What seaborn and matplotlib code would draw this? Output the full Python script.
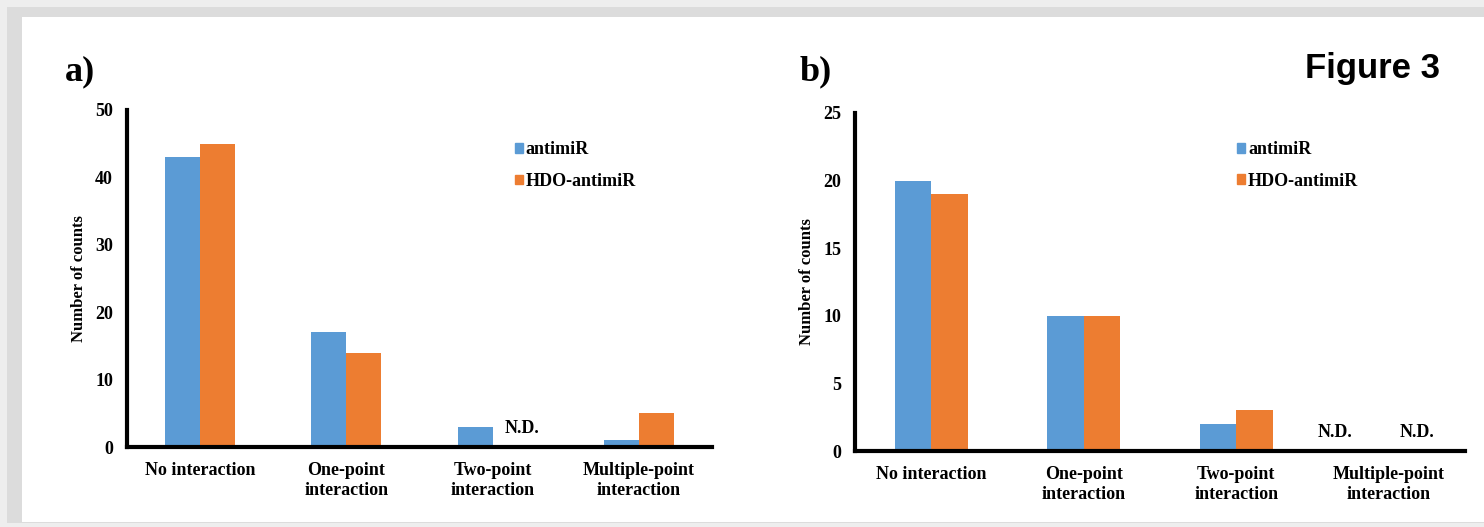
import matplotlib
matplotlib.use("Agg")
import matplotlib.pyplot as plt
import seaborn as sns
import pandas as pd
from matplotlib.patches import Rectangle

# data (N.D. drawn as 0 with a label)
categories = ["No interaction", "One-point\ninteraction", "Two-point\ninteraction",
              "Multiple-point\ninteraction"]
series = ["antimiR", "HDO-antimiR"]
a_antimir = [43, 17, 3, 1]
a_hdo = [45, 14, 0, 5]
a_nd = [(1, 2)]  # (series index, category index)
b_antimir = [20, 10, 2, 0]
b_hdo = [19, 10, 3, 0]
b_nd = [(0, 3), (1, 3)]
a_yticks = [0, 10, 20, 30, 40, 50]
b_yticks = [0, 5, 10, 15, 20, 25]

colors = ["#5B9BD5", "#ED7D31"]
serif = "Liberation Serif"

sns.set_style("white")
plt.rcParams["font.family"] = serif
plt.rcParams["font.weight"] = "bold"
for k in ["text.color", "axes.labelcolor", "xtick.color", "ytick.color"]:
    plt.rcParams[k] = "black"


def long_df(v1, v2):
    return pd.DataFrame({
        "category": categories * 2,
        "series": [series[0]] * 4 + [series[1]] * 4,
        "count": v1 + v2})


def draw(ax, df, yticks, nd, nd_shift, leg_anchor):
    sns.barplot(data=df, x="category", y="count", hue="series", palette=colors,
                width=0.48, linewidth=0, saturation=1, ax=ax, legend=True)
    ax.set_ylim(yticks[0], yticks[-1])
    ax.set_yticks(yticks)
    ax.set_xlim(-0.5, 3.5)
    ax.set_xlabel("")
    ax.set_ylabel("Number of counts", fontsize=12, fontweight="bold", labelpad=6)
    ax.tick_params(axis="both", length=0, labelsize=13)
    ax.tick_params(axis="y", pad=10)
    ax.tick_params(axis="x", pad=11)
    for lbl in ax.get_xticklabels() + ax.get_yticklabels():
        lbl.set_fontweight("bold")
    for s in ["top", "right"]:
        ax.spines[s].set_visible(False)
    for s in ["left", "bottom"]:
        ax.spines[s].set_linewidth(3)
        ax.spines[s].set_color("black")
    for (si, ci), dx in zip(nd, nd_shift):
        bar = ax.containers[si][ci]
        ax.text(bar.get_x() + bar.get_width() / 2 + dx, yticks[-1] * 0.03, "N.D.",
                ha="center", va="bottom", fontsize=13, fontweight="bold")
    handles = [Rectangle((0, 0), 1, 1, color=c) for c in colors]
    ax.legend(handles, series, loc="upper left", bbox_to_anchor=leg_anchor,
              frameon=False, handlelength=0.45, handleheight=0.45, handletextpad=0.15,
              labelspacing=0.8, prop={"family": serif, "weight": "bold", "size": 13})


fig = plt.figure(figsize=(14.84, 5.27), dpi=100)
fig.patch.set_facecolor("#EEEEEE")
fig.add_artist(Rectangle((7 / 1484, 4 / 527), 1, 1 - 11 / 527,
                         transform=fig.transFigure, facecolor="#DCDCDC",
                         edgecolor="none", zorder=-11))
fig.add_artist(Rectangle((22 / 1484, 5 / 527), 1, 1 - 22 / 527,
                         transform=fig.transFigure, facecolor="white",
                         edgecolor="none", zorder=-10))

ax1 = fig.add_axes([127 / 1484, 80 / 527, 585 / 1484, 337 / 527])
ax2 = fig.add_axes([855 / 1484, 76 / 527, 610 / 1484, 338 / 527])
draw(ax1, long_df(a_antimir, a_hdo), a_yticks, a_nd, [0.08], (0.635, 0.955))
draw(ax2, long_df(b_antimir, b_hdo), b_yticks, b_nd, [-0.23, 0.066], (0.60, 0.965))

fig.text(65 / 1484, 1 - 80 / 527, "a)", fontsize=26, fontweight="bold", family=serif)
fig.text(800 / 1484, 1 - 80 / 527, "b)", fontsize=26, fontweight="bold", family=serif)
fig.text(1440 / 1484, 1 - 78 / 527, "Figure 3", fontsize=25, fontweight="bold",
         family="Liberation Sans", ha="right")

fig.savefig("out.png", dpi=100, facecolor=fig.get_facecolor())
